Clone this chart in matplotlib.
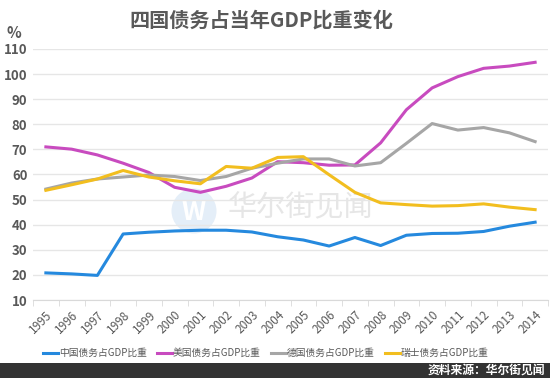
import matplotlib

matplotlib.use("Agg")
import matplotlib.pyplot as plt
from matplotlib.patches import Rectangle, Ellipse
import numpy as np

plt.rcParams["font.family"] = ["Noto Sans CJK SC", "DejaVu Sans"]

YEARS = [str(y) for y in range(1995, 2015)]
CHINA = [20.8, 20.4, 19.8, 36.3, 37.0, 37.5, 37.8, 37.8, 37.1, 35.2,
         33.9, 31.5, 34.9, 31.7, 35.8, 36.5, 36.6, 37.3, 39.4, 41.0]
USA = [71.0, 70.1, 67.8, 64.5, 60.8, 54.9, 52.9, 55.3, 58.6, 65.1,
       64.7, 63.7, 63.8, 72.6, 85.8, 94.5, 99.0, 102.3, 103.2, 104.7]
GERMANY = [54.2, 56.6, 58.2, 59.0, 59.8, 59.2, 57.6, 59.2, 62.5, 64.5,
           66.2, 66.2, 63.4, 64.7, 72.4, 80.3, 77.7, 78.7, 76.6, 73.1]
SWISS = [53.7, 55.9, 58.2, 61.6, 59.0, 57.5, 56.3, 63.2, 62.5, 66.8,
         67.1, 59.9, 52.9, 48.7, 48.0, 47.4, 47.6, 48.3, 47.0, 46.0]
LABELS = ["中国债务占GDP比重", "美国债务占GDP比重", "德国债务占GDP比重", "瑞士债务占GDP比重"]
COLORS = ["#2589DE", "#C84BBF", "#A6A6A6", "#F2BE1F"]

W, H = 550, 378
fig = plt.figure(figsize=(W / 100, H / 100), dpi=100)
fig.patch.set_facecolor("white")

# watermark, behind the axes
fig.patches.append(Ellipse((194 / W, 1 - 211 / H), 45 / W, 45 / H, transform=fig.transFigure,
                           facecolor="#E4EEF8", edgecolor="none", zorder=-3))
fig.text(194 / W, 1 - 212 / H, "W", color="white", fontsize=19, fontweight="bold",
         ha="center", va="center", zorder=-2)
fig.text(300 / W, 1 - 208 / H, "华尔街见闻", color="#E6E6E6", fontsize=21,
         ha="center", va="center", zorder=-2)

ax = fig.add_axes([33 / W, 1 - 300 / H, 515 / W, 251 / H])
ax.patch.set_visible(False)

x = np.arange(len(YEARS))
for vals, lab, col in zip([CHINA, USA, GERMANY, SWISS], LABELS, COLORS):
    ax.plot(x, vals, color=col, lw=2.2, label=lab, zorder=3)

ax.set_xlim(-0.5, len(YEARS) - 0.5)
ax.set_ylim(10, 110)
ax.set_yticks(range(10, 111, 10))
ax.set_xticks(x)
ax.set_xticklabels(YEARS, rotation=45, ha="right", rotation_mode="anchor",
                   color="#595959", fontsize=8.5)
ax.set_xticks(np.arange(-0.5, len(YEARS)), minor=True)
ax.tick_params(axis="x", which="major", length=0, pad=6)
ax.tick_params(axis="x", which="minor", length=4, color="#D9D9D9")
ax.tick_params(axis="y", length=0, labelcolor="#595959", labelsize=9.5, pad=4)
for t in ax.get_yticklabels():
    t.set_fontweight("bold")
ax.grid(axis="y", color="#E6E6E6", lw=1)
ax.set_axisbelow(True)
for s in ["top", "right", "left"]:
    ax.spines[s].set_visible(False)
ax.spines["bottom"].set_color("#D9D9D9")

fig.text(14 / W, 1 - 33 / H, "%", color="#595959", fontsize=11, fontweight="bold",
         ha="center", va="center")
fig.text(261 / W, 1 - 20 / H, "四国债务占当年GDP比重变化", color="#595959", fontsize=14.5,
         fontweight="bold", ha="center", va="center")

fig.legend(loc="center", bbox_to_anchor=(266 / W, 1 - 353 / H), ncol=4, frameon=False,
           fontsize=7, handlelength=1.5, handletextpad=0.1, columnspacing=1.1,
           labelcolor="#595959")

fig.patches.append(Rectangle((0, 0), 1, 15 / H, transform=fig.transFigure,
                             facecolor="#333333", edgecolor="none"))
fig.text(545 / W, 7.5 / H, "资料来源：华尔街见闻", color="white", fontsize=8.5,
         fontweight="bold", ha="right", va="center")

fig.savefig("out.png", dpi=100)
